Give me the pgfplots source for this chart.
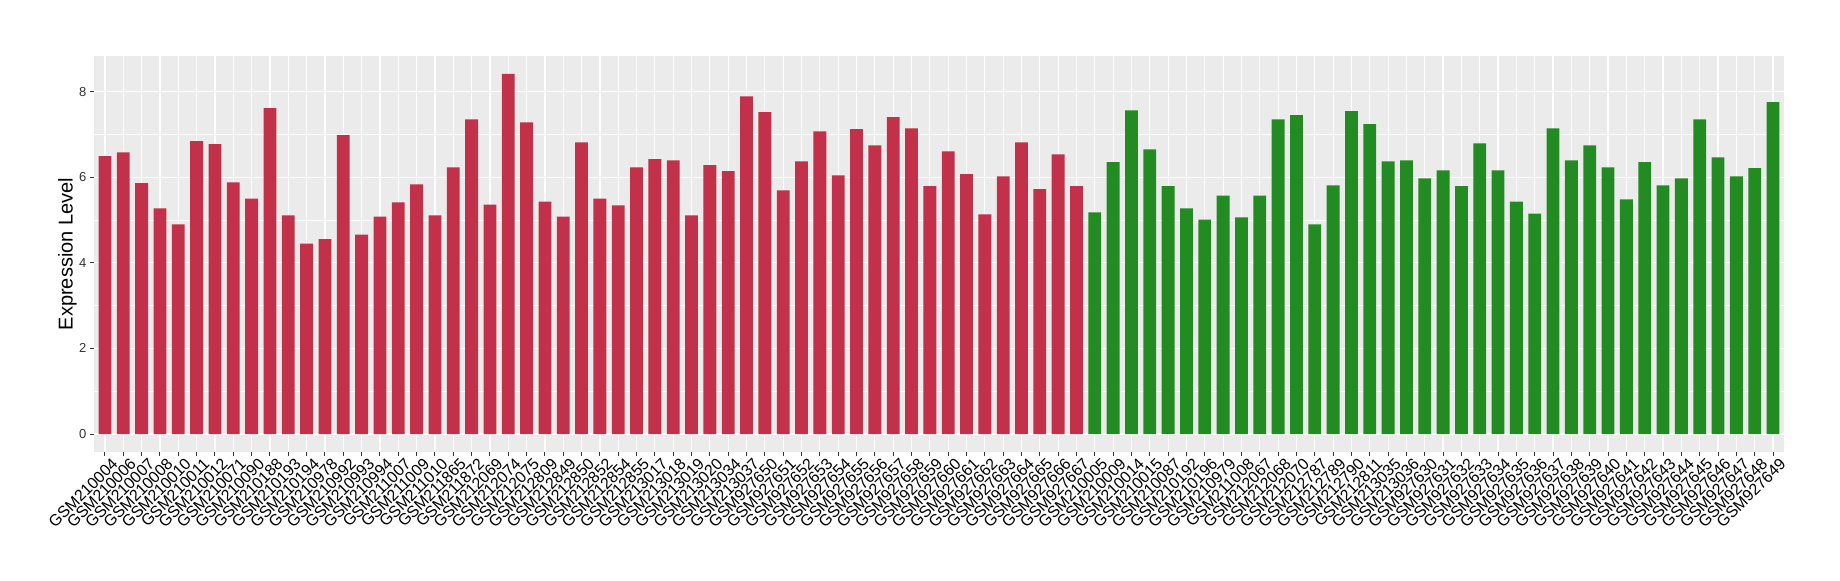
\documentclass[border=0pt]{standalone}
\usepackage{fontspec}
\setmainfont{Liberation Sans}
\usepackage{pgfplots}
\pgfplotsset{compat=1.18}

\definecolor{panelbg}{HTML}{EBEBEB}
\definecolor{tumour}{RGB}{195,48,74}
\definecolor{normal}{RGB}{34,139,34}
\definecolor{ticktext}{HTML}{333333}
\definecolor{tickmark}{HTML}{333333}

\begin{document}
\begin{tikzpicture}
% 1 px of the 1840x580 reference = 0.5pt
\useasboundingbox (-47pt,-64pt) rectangle (873pt,226pt);
\begin{axis}[
    at={(0,0)}, anchor=south west,
    scale only axis,
    width=845pt, height=198pt,
    xmin=0.4, xmax=92.6,
    ymin=-0.42, ymax=8.83,
    axis line style={draw=none},
    axis background/.style={fill=panelbg},
    ybar, bar width=0.7, bar shift=0pt,
    xtick={1,...,92},
    xticklabels={
        GSM210004,GSM210006,GSM210007,GSM210008,GSM210010,GSM210011,GSM210012,
        GSM210071,GSM210090,GSM210188,GSM210193,GSM210194,GSM210978,GSM210992,
        GSM210993,GSM210994,GSM211007,GSM211009,GSM211010,GSM211865,GSM211872,
        GSM212069,GSM212074,GSM212075,GSM212809,GSM212849,GSM212850,GSM212852,
        GSM212854,GSM212855,GSM213017,GSM213018,GSM213019,GSM213020,GSM213034,
        GSM213037,GSM927650,GSM927651,GSM927652,GSM927653,GSM927654,GSM927655,
        GSM927656,GSM927657,GSM927658,GSM927659,GSM927660,GSM927661,GSM927662,
        GSM927663,GSM927664,GSM927665,GSM927666,GSM927667,
        GSM210005,GSM210009,GSM210014,GSM210015,GSM210087,GSM210192,GSM210196,
        GSM210979,GSM211008,GSM212067,GSM212068,GSM212070,GSM212787,GSM212789,
        GSM212790,GSM212811,GSM213035,GSM213036,GSM927630,GSM927631,GSM927632,
        GSM927633,GSM927634,GSM927635,GSM927636,GSM927637,GSM927638,GSM927639,
        GSM927640,GSM927641,GSM927642,GSM927643,GSM927644,GSM927645,GSM927646,
        GSM927647,GSM927648,GSM927649},
    ytick={0,2,4,6,8},
    minor ytick={1,3,5,7},
    grid=both,
    major grid style={white, line width=0.6pt},
    minor grid style={white, line width=0.3pt},
    tick align=outside,
    major tick length=2pt,
    tick style={tickmark, line width=0.5pt},
    minor tick length=0pt,
    xtick pos=bottom, ytick pos=left,
    /pgf/number format/assume math mode=true,
    xticklabel style={font=\fontsize{8}{9}\selectfont, text=black,
        rotate=45, anchor=north east, inner sep=0pt, yshift=-2.3pt, xshift=1.8pt},
    yticklabel style={font=\fontsize{6.5}{7}\selectfont, text=ticktext,
        anchor=east, inner sep=0pt, xshift=-1.6pt},
    ylabel={Expression Level},
    ylabel style={at={(axis description cs:-0.0127,0.5)}, anchor=base,
        font=\fontsize{10}{12}\selectfont, text=black, inner sep=0pt},
]
\addplot[fill=tumour, draw=none] coordinates {
    (1,6.49) (2,6.58) (3,5.86) (4,5.27) (5,4.90) (6,6.84) (7,6.77) (8,5.88)
    (9,5.50) (10,7.61) (11,5.11) (12,4.45) (13,4.55) (14,6.98) (15,4.66)
    (16,5.08) (17,5.41) (18,5.83) (19,5.11) (20,6.23) (21,7.35) (22,5.36)
    (23,8.41) (24,7.28) (25,5.43) (26,5.08) (27,6.81) (28,5.50) (29,5.34)
    (30,6.23) (31,6.42) (32,6.39) (33,5.11) (34,6.28) (35,6.14) (36,7.89)
    (37,7.52) (38,5.69) (39,6.37) (40,7.07) (41,6.04) (42,7.12) (43,6.74)
    (44,7.40) (45,7.14) (46,5.79) (47,6.60) (48,6.07) (49,5.13) (50,6.02)
    (51,6.81) (52,5.72) (53,6.53) (54,5.79)
};
\addplot[fill=normal, draw=none] coordinates {
    (55,5.18) (56,6.35) (57,7.56) (58,6.65) (59,5.79) (60,5.27) (61,5.01)
    (62,5.57) (63,5.06) (64,5.57) (65,7.35) (66,7.45) (67,4.90) (68,5.81)
    (69,7.54) (70,7.24) (71,6.37) (72,6.39) (73,5.97) (74,6.16) (75,5.79)
    (76,6.79) (77,6.16) (78,5.43) (79,5.15) (80,7.14) (81,6.39) (82,6.74)
    (83,6.23) (84,5.48) (85,6.35) (86,5.81) (87,5.97) (88,7.35) (89,6.46)
    (90,6.02) (91,6.21) (92,7.75)
};
\end{axis}
\end{tikzpicture}
\end{document}
